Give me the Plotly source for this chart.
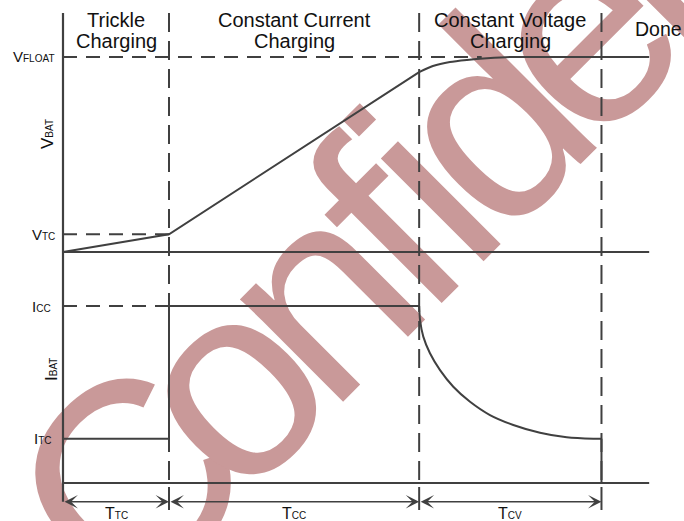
import plotly.graph_objects as go

W, H = 684, 521
LINE = "#404040"
INK = "#111111"
WATERMARK = "rgb(201,153,153)"
FONT = "Liberation Sans, Arial, sans-serif"

# ---- chart data -------------------------------------------------------
# phase boundaries on the time axis (arbitrary time units)
t_phase = [0.0, 1.0, 3.36, 5.08]
t_axis_end = 5.53
phase_line1 = ["Trickle", "Constant Current", "Constant Voltage"]
phase_line2 = ["Charging", "Charging", "Charging"]
done_label = "Done"
duration_main = ["T", "T", "T"]
duration_sub = ["TC", "CC", "CV"]

# voltage levels (V)
v_base = 2.0
v_tc = 2.2
v_float = 4.2
v_top = 4.7

# current levels (normalised to the constant-current setting)
i_tc = 0.25
i_cc = 1.0

# battery voltage: trickle and constant-current ramps
v_ramp_t = [0.0, 1.0, 3.36]
v_ramp = [2.0, 2.2, 4.03]
# battery voltage: constant-voltage approach to V_FLOAT, then hold
v_cv_t = [3.36, 3.49, 3.65, 3.81, 4.0, 4.22, 4.6, 5.53]
v_cv = [4.03, 4.098, 4.143, 4.166, 4.185, 4.2, 4.2, 4.2]

# battery current: trickle level, then step to the constant-current plateau
i_step_t = [0.0, 1.0, 1.0, 3.36]
i_step = [0.25, 0.25, 1.0, 1.0]
# battery current: taper during constant-voltage charging
i_cv_t = [3.36, 3.368, 3.399, 3.462, 3.557, 3.682, 3.84, 4.028, 4.248, 4.5, 4.752, 5.003, 5.08]
i_cv = [1.0, 0.921, 0.827, 0.733, 0.638, 0.544, 0.459, 0.384, 0.328, 0.284, 0.258, 0.25, 0.25]
# termination: current falls to zero
i_end_t = [5.08, 5.08]
i_end = [0.25, 0.0]

watermark_text = "Confidential"

# ---- axis scaling (pixels) ---------------------------------------------
PX_T0, PX_PER_T = 63, 106
PX_V0, PX_PER_V = 252, 88.64
PX_I0, PX_PER_I = 483, 177


def i_at(p):
    """current-axis value for a pixel row"""
    return (PX_I0 - p) / PX_PER_I


def py(p):
    return 1 - p / H


def px(p):
    return p / W


x_range = [-PX_T0 / PX_PER_T, (W - PX_T0) / PX_PER_T]
v_range = [v_base - (H - PX_V0) / PX_PER_V, v_base + PX_V0 / PX_PER_V]
i_range = [-(H - PX_I0) / PX_PER_I, PX_I0 / PX_PER_I]

frame_top = i_at(13)
arrow_level = i_at(501.7)
tick_top = i_at(487)
tick_bottom = i_at(510)

fig = go.Figure()


def seg(x, y, axis="y", dash=None, width=2.0, shape="linear"):
    fig.add_trace(go.Scatter(
        x=x, y=y, yaxis=axis, mode="lines", hoverinfo="skip", showlegend=False,
        line=dict(color=LINE, width=width, dash=dash, shape=shape, smoothing=0.6),
    ))


HDASH = "14px,9px"
VDASH = "19px,9px"

# reference levels
seg([0, 3.95], [v_float, v_float], dash=HDASH)
seg([0, t_phase[1]], [v_tc, v_tc], dash=HDASH)
seg([0, t_phase[1]], [i_cc, i_cc], axis="y2", dash=HDASH)

# phase boundaries
for t in t_phase[1:]:
    seg([t, t], [frame_top, 0], axis="y2", dash=VDASH)
    seg([t, t], [tick_top, tick_bottom], axis="y2", width=2.0)

# axes
seg([0, 0], [frame_top, arrow_level], axis="y2", width=2.2)
seg([0, t_axis_end], [v_base, v_base], width=2.2)
seg([0, t_axis_end], [0, 0], axis="y2", width=2.2)

# voltage profile
seg(v_ramp_t, v_ramp, width=2.0)
seg(v_cv_t, v_cv, width=2.0, shape="spline")

# current profile
seg(i_step_t, i_step, axis="y2", width=2.0)
seg(i_cv_t, i_cv, axis="y2", width=2.0, shape="spline")
seg(i_end_t, i_end, axis="y2", width=2.0)

ann = []

# phase durations
for k in range(3):
    ann.append(dict(
        x=t_phase[k + 1], y=arrow_level, ax=t_phase[k], ay=arrow_level,
        xref="x", yref="y2", axref="x", ayref="y2", text="", showarrow=True,
        arrowhead=3, startarrowhead=3, arrowside="end+start", arrowsize=1.4,
        startarrowsize=1.4, arrowwidth=1.6, arrowcolor=LINE, standoff=0, startstandoff=0,
    ))
    mid = (t_phase[k] + t_phase[k + 1]) / 2
    ann.append(dict(
        x=mid, y=py(502.5), xref="x", yref="paper", xanchor="center", yanchor="top",
        text=f"{duration_main[k]}<span style='font-size:10px'>{duration_sub[k]}</span>",
        showarrow=False, font=dict(size=16, color=INK, family=FONT),
    ))
    ann.append(dict(
        x=mid, y=py(19.5), xref="x", yref="paper", xanchor="center", yanchor="middle",
        text=phase_line1[k], showarrow=False, font=dict(size=20, color=INK, family=FONT),
    ))
    ann.append(dict(
        x=mid, y=py(41.5), xref="x", yref="paper", xanchor="center", yanchor="middle",
        text=phase_line2[k], showarrow=False, font=dict(size=20, color=INK, family=FONT),
    ))

ann.append(dict(
    x=px(658), y=py(29), xref="paper", yref="paper", xanchor="center", yanchor="middle",
    text=done_label, showarrow=False, font=dict(size=19.5, color=INK, family=FONT),
))


def level_label(main, sub, y, axis, right_px):
    ann.append(dict(
        x=px(right_px), y=y, xref="paper", yref=axis, xanchor="right", yanchor="middle",
        text=f"{main}<span style='font-size:10px'>{sub}</span>",
        showarrow=False, font=dict(size=15, color=INK, family=FONT),
    ))


level_label("V", "FLOAT", v_float, "y", 57)
level_label("V", "TC", v_tc, "y", 57)
level_label("I", "CC", i_cc, "y2", 53)
level_label("I", "TC", i_tc, "y2", 54)

for main, sub, cx, cy in [("V", "BAT", 47, 134), ("I", "BAT", 51, 370)]:
    ann.append(dict(
        x=px(cx), y=py(cy), xref="paper", yref="paper", xanchor="center", yanchor="middle",
        text=f"{main}<span style='font-size:10px'>{sub}</span>", textangle=-90,
        showarrow=False, font=dict(size=17, color=INK, family=FONT),
    ))

# ---- watermark, set letter by letter along a 45-degree baseline ---------
# glyph advance widths (em) used to space the letters
ADVANCE = {"C": .64, "o": .556, "n": .556, "f": .278, "i": .222, "d": .556,
           "e": .556, "t": .278, "a": .556, "l": .222}
WM_SIZE = 275        # glyph size, px
WM_PITCH = 230       # px of baseline per em of advance (tight set)
WM_START = -323      # start of the word along the baseline, px
WM_BASELINE = 511    # baseline offset across the diagonal, px
R2 = 2 ** 0.5

cursor = WM_START
q_mid = WM_BASELINE - 0.385 * WM_SIZE
for ch in watermark_text:
    adv = ADVANCE[ch] * WM_PITCH
    s = cursor + adv / 2
    cx, cy = (s + q_mid) / R2, (q_mid - s) / R2
    fig.add_shape(
        type="rect", xref="paper", yref="paper",
        x0=px(cx - 1), x1=px(cx + 1), y0=py(cy + 1), y1=py(cy - 1),
        line=dict(width=0), fillcolor="rgba(0,0,0,0)", layer="below",
        label=dict(text=ch, textangle=-45, textposition="middle center",
                   font=dict(size=WM_SIZE, color=WATERMARK, family=FONT)),
    )
    cursor += adv

fig.update_layout(
    width=W, height=H, margin=dict(l=0, r=0, t=0, b=0),
    paper_bgcolor="white", plot_bgcolor="white",
    xaxis=dict(range=x_range, visible=False, domain=[0, 1]),
    yaxis=dict(range=v_range, visible=False, domain=[0, 1]),
    yaxis2=dict(range=i_range, visible=False, overlaying="y"),
    annotations=ann, showlegend=False,
)

fig.write_html("out.html")
